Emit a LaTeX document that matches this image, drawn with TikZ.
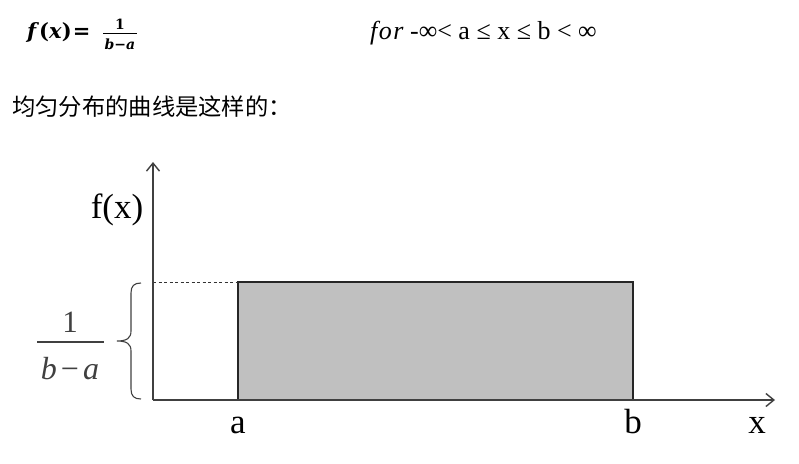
\documentclass[tikz,border=0pt]{standalone}
\usepackage{fontspec}
\setmainfont{Liberation Serif}
\newfontfamily\cjk{Noto Sans CJK SC}
\newfontfamily\topmath{DejaVu Serif}
\usetikzlibrary{arrows.meta}
\definecolor{axisgray}{HTML}{404040}
\definecolor{boxfill}{HTML}{C0C0C0}
\definecolor{fracgray}{HTML}{404040}
\tikzset{
  axisline/.style={draw=axisgray, line width=1.4pt},
  boxline/.style={draw=black!85, line width=1.3pt, fill=boxfill},
  biglabel/.style={font=\fontsize{35}{40}\selectfont, inner sep=0pt},
  fraclabel/.style={font=\fontsize{31}{34}\selectfont, text=fracgray, inner sep=0pt},
  toplabel/.style={inner sep=0pt, anchor=west},
}
\begin{document}
\begin{tikzpicture}[x=1pt, y=-1pt]
\useasboundingbox (0,0) rectangle (799,463);
% top formula
\node[toplabel, font=\fontsize{21}{24}\selectfont\topmath\bfseries] (fx) at (27,33) {\textit{f}(\textit{x})\kern1pt=};
\coordinate (barL) at (103,33.5);
\coordinate (barR) at (137,33.5);
\draw[line width=1pt] (barL) -- (barR);
\node[inner sep=0pt, font=\fontsize{14}{15}\selectfont\topmath\bfseries] (fnum) at (120,24) {1};
\node[inner sep=0pt, font=\fontsize{14}{15}\selectfont\topmath\bfseries\itshape] (fden) at (120,44) {b\textup{−}a};
\node[toplabel, font=\fontsize{26}{28}\selectfont] (cond) at (370,33) {\textit{f\kern1.5pt o\kern1.5pt r} -∞< a ≤ x ≤ b < ∞};
% Chinese line
\node[toplabel, font=\fontsize{23.3}{26}\selectfont\cjk] (cn) at (12,107) {均匀分布的曲线是这样的：};
% axes
\coordinate (O) at (153,400);
\coordinate (ytop) at (153,162);
\coordinate (xend) at (775,400);
\coordinate (A) at (238,400);
\coordinate (B) at (633,400);
\coordinate (Atop) at (238,282);
\coordinate (Btop) at (633,282);
\coordinate (Ytick) at (153,282);
\path[boxline] (A) rectangle (Btop);
\draw[dashed, dash pattern=on 3pt off 2.5pt, line width=1pt, black!80] (Ytick) -- (Atop);
\draw[axisline, -{Straight Barb[length=8pt, width=13pt, line width=1.4pt]}] (O) -- (ytop);
\draw[axisline, -{Straight Barb[length=8pt, width=13pt, line width=1.4pt]}] (O) -- (xend);
% labels
\node[biglabel] (fxl) at (117,210) {f(x)};
\node[biglabel, anchor=base] (al) at (A |- 0,433) {a};
\node[biglabel, anchor=base] (bl) at (B |- 0,433) {b};
\node[biglabel, anchor=base] (xl) at (757,433) {x};
% brace
\draw[axisgray, line width=1.1pt] (141,283) .. controls (134,283) and (131,286) .. (131,293) -- (131,331) .. controls (131,338) and (127,341) .. (117,341) .. controls (127,341) and (131,344) .. (131,351) -- (131,389) .. controls (131,396) and (134,399) .. (141,399);
% fraction
\node[fraclabel] (num) at (70,322) {1};
\node[fraclabel, font=\fontsize{32}{34}\selectfont\itshape] (den) at (70,369) {b\kern4pt\textup{−}\kern4pt a};
\coordinate (fbarL) at (37,342);
\coordinate (fbarR) at (104,342);
\draw[fracgray, line width=1.2pt] (fbarL) -- (fbarR);
\end{tikzpicture}
\end{document}
